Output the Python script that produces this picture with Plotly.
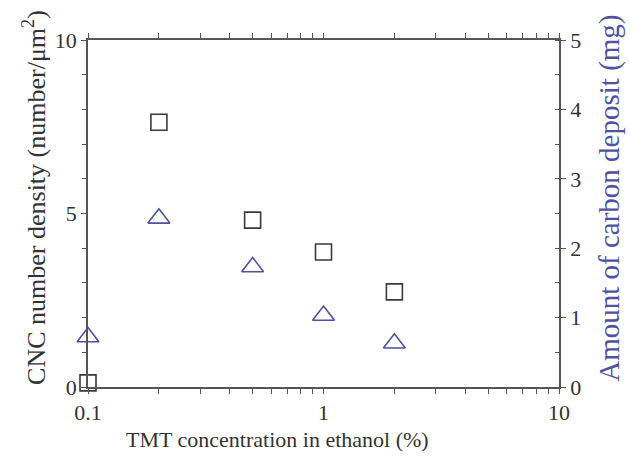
import plotly.graph_objects as go

conc = [0.1, 0.2, 0.5, 1, 2]
cnc_density = [0.12, 7.63, 4.81, 3.89, 2.74]
carbon_deposit = [0.72, 2.43, 1.73, 1.03, 0.63]

x_tickvals = [0.1, 1, 10]
x_ticktext = ["0.1", "1", "10"]

x_title = "TMT concentration in ethanol (%)"
y_title = "CNC number density (number/μm<sup>2</sup>)"
y2_title = "Amount of carbon deposit (mg)"

axis_col = "#555555"
font_fam = "Liberation Serif"
blue = "#4f52a0"
text_col = "#333333"

fig = go.Figure()
fig.add_trace(go.Scatter(
    x=conc, y=cnc_density, mode="markers", cliponaxis=False,
    marker=dict(symbol="square-open", size=16, color="#3a3a3a", line=dict(width=1.6)),
    showlegend=False))
fig.add_trace(go.Scatter(
    x=conc, y=carbon_deposit, mode="markers", yaxis="y2", cliponaxis=False,
    marker=dict(symbol="triangle-up-open", size=19, color=blue, line=dict(width=1.6)),
    showlegend=False))

fig.update_layout(
    width=630, height=456,
    margin=dict(l=88, r=71, t=40, b=69),
    paper_bgcolor="white", plot_bgcolor="white",
    font=dict(family=font_fam, size=22, color=text_col),
    xaxis=dict(
        type="log", range=[-1, 1],
        tickvals=x_tickvals, ticktext=x_ticktext,
        ticks="outside", ticklen=5, tickwidth=1.3, tickcolor=axis_col,
        minor=dict(dtick="D1", ticks="outside", ticklen=5, tickcolor=axis_col, tickwidth=1.3),
        showline=True, linecolor=axis_col, linewidth=1.5, mirror="ticks",
        showgrid=False, zeroline=False,
        tickfont=dict(family=font_fam, size=22, color=text_col),
    ),
    yaxis=dict(
        range=[0, 10], tickvals=[0, 5, 10],
        ticks="outside", ticklen=5, tickwidth=1.3, tickcolor=axis_col,
        minor=dict(dtick=1, ticks="outside", ticklen=4, tickcolor=axis_col, tickwidth=1.3),
        showline=True, linecolor=axis_col, linewidth=1.5,
        showgrid=False, zeroline=False,
        tickfont=dict(family=font_fam, size=22, color=text_col),
    ),
    yaxis2=dict(
        overlaying="y", side="right", range=[0, 5], dtick=1,
        ticks="outside", ticklen=5, tickwidth=1.3, tickcolor=axis_col,
        minor=dict(dtick=0.5, ticks="inside", ticklen=4, tickcolor=axis_col, tickwidth=1.3),
        showline=True, linecolor=axis_col, linewidth=1.5,
        showgrid=False, zeroline=False,
        tickfont=dict(family=font_fam, size=22, color=text_col),
    ),
    annotations=[
        dict(text=x_title, xref="paper", yref="paper", x=0.403, y=-0.152,
             xanchor="center", yanchor="middle", showarrow=False,
             font=dict(family=font_fam, size=22, color=text_col)),
        dict(text=y_title, xref="paper", yref="paper", x=-0.1125, y=0.545,
             xanchor="center", yanchor="middle", textangle=-90, showarrow=False,
             font=dict(family=font_fam, size=26, color=text_col)),
        dict(text=y2_title, xref="paper", yref="paper", x=1.108, y=0.545,
             xanchor="center", yanchor="middle", textangle=-90, showarrow=False,
             font=dict(family=font_fam, size=29, color=blue)),
    ],
)

fig.write_html("out.html")
